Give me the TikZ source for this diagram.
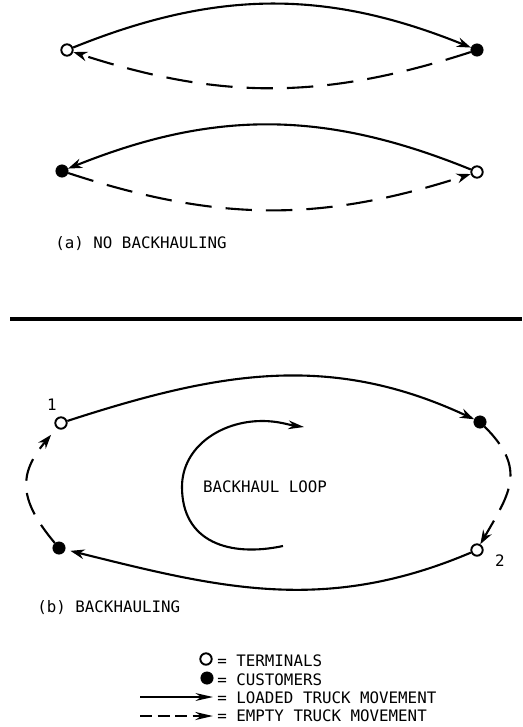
\documentclass[tikz,border=0pt]{standalone}
\usepackage{fontspec}
\usepackage{tikz}
\usetikzlibrary{arrows.meta}
\newfontfamily\typefont{DejaVu Sans Mono}

\begin{document}
\begin{tikzpicture}[
				x=0.02cm, y=-0.02cm,
				terminal/.style={circle, draw=black, fill=white, line width=1.1pt, minimum size=6.5pt, inner sep=0pt},
				customer/.style={circle, draw=black, fill=black, minimum size=7pt, inner sep=0pt},
				loadedmove/.style={-{Stealth[length=8pt, width=5.5pt]}, line width=1.2pt},
				emptymove/.style={loadedmove, dash pattern=on 15pt off 8pt},
				legendmove/.style={-{Stealth[length=10pt, width=4.5pt]}, line width=1pt},
				caption/.style={font=\typefont\fontsize{9}{11}\selectfont, anchor=base west, inner sep=0pt}
				]
				
				\useasboundingbox (0,0) rectangle (522,727);
				
				\node[terminal] (ta1) at (67,50) {};
				\node[customer] (ca1) at (477,50) {};
				\node[customer] (cb1) at (62,171) {};
				\node[terminal] (tb1) at (477,172) {};
				\node[caption] (capa) at (55,248) {(a) NO BACKHAULING};
				
				\draw[loadedmove] (ta1) to[bend left=22] (ca1);
				\draw[emptymove] (ca1) to[bend left=18] (ta1);
				\draw[loadedmove] (tb1) to[bend right=22] (cb1);
				\draw[emptymove] (cb1) to[bend right=18] (tb1);
				
				\draw[line width=2.6pt] (10,319) -- (522,319);
				
				\node[terminal] (t1) at (61,423) {};
				\node[customer] (c1) at (480,422) {};
				\node[terminal] (t2) at (477,550) {};
				\node[customer] (c2) at (59,548) {};
				\node[caption, anchor=base] (one) at (52,410) {1};
				\node[caption, anchor=base] (two) at (500,566) {2};
				\node[caption, anchor=base] (looplabel) at (265,492) {BACKHAUL LOOP};
				\node[caption] (capb) at (37,612) {(b) BACKHAULING};
				
				\draw[loadedmove] (t1) to[out=18, in=155] (c1);
				\draw[emptymove, dash pattern=on 13pt off 7pt] (c1) to[out=-45, in=60, looseness=1.3] (t2);
				\draw[loadedmove, shorten >=3pt] (t2) to[out=203, in=-14] (c2);
				\draw[emptymove, dash pattern=on 13pt off 7pt, shorten >=5pt] (c2) to[out=130, in=-130, looseness=1.3] (t1);
				
				\coordinate (loopstart) at (283,546);
				\coordinate (loopleft) at (182,487);
				\coordinate (looptop) at (262,421);
				\coordinate (loopend) at (304,427);
				\draw[loadedmove, -{Stealth[length=9pt, width=5pt]}] (loopstart) to[out=192, in=-90, looseness=1.2] (loopleft) to[out=90, in=180] (looptop) to[out=0, in=172] (loopend);
				
				\node[terminal] (legterm) at (206,659) {};
				\node[customer] (legcust) at (207,678) {};
				\coordinate (loadstart) at (140,697);
				\coordinate (loadend) at (213,697);
				\coordinate (emptystart) at (140,716);
				\coordinate (emptyend) at (213,716);
				\node[caption] (termtext) at (217,666) {= TERMINALS};
				\node[caption] (custtext) at (217,685) {= CUSTOMERS};
				\node[caption] (loadtext) at (217,703) {= LOADED TRUCK MOVEMENT};
				\node[caption] (emptytext) at (217,721) {= EMPTY TRUCK MOVEMENT};
				
				\draw[legendmove] (loadstart) -- (loadend);
				\draw[legendmove, line width=1.6pt, dash pattern=on 7pt off 3pt] (emptystart) -- (emptyend);
				
			\end{tikzpicture}
\end{document}
